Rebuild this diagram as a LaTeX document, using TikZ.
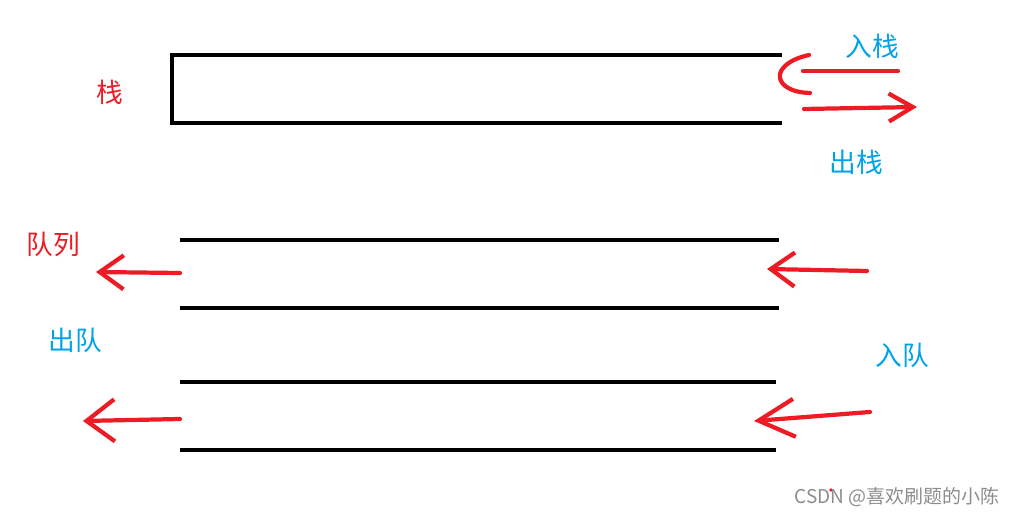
\documentclass[tikz,border=0pt]{standalone}
\usepackage{fontspec}
\newfontfamily\cjk{Noto Sans CJK SC}
\usetikzlibrary{arrows.meta}
\definecolor{mPaintRed}{HTML}{ED1C24}
\definecolor{mPaintBlue}{HTML}{00A2E8}

\begin{document}
\begin{tikzpicture}[x=0.025cm, y=-0.025cm,
    wall/.style={line width=3pt, black},
    redline/.style={line width=3pt, mPaintRed, line cap=round, line join=round},
    redarrow/.style 2 args={redline, -{Straight Barb[length=#1, width=#2]}},
    bluelbl/.style={font=\cjk\fontsize{19}{21}\selectfont, text=mPaintBlue, inner sep=0pt},
    redlbl/.style={font=\cjk\fontsize{19}{21}\selectfont, text=mPaintRed, inner sep=0pt}]
    \useasboundingbox (0,0) rectangle (1018,517);

    % stack
    \draw[wall] (782,55) -- (172,55) -- (172,123) -- (782,123);
    \node[redlbl] (stacklbl) at (110,92) {栈};
    \node[bluelbl] (push) at (872,46) {入栈};
    \node[bluelbl] (pop) at (856,162) {出栈};
    \coordinate (pushs) at (898,71);
    \coordinate (pushe) at (803,71);
    \coordinate (pops) at (804,109);
    \coordinate (pope) at (917,107);
    \draw[redline] (pushs) -- (pushe);
    \draw[redline] (809,55) .. controls (768,64) and (772,92) .. (810,93);
    \draw[redarrow={0.6cm}{0.7cm}] (pops) -- (pope);

    % queues
    \draw[wall] (180,240) -- (779,240);
    \draw[wall] (180,308) -- (779,308);
    \draw[wall] (180,382) -- (776,382);
    \draw[wall] (180,450) -- (776,450);
    \node[redlbl] (queuelbl) at (53,244) {队列};
    \node[bluelbl] (deq) at (75,340) {出队};
    \node[bluelbl] (enq) at (902,355) {入队};

    \coordinate (qaout) at (180,273);
    \coordinate (qaouttip) at (96,272);
    \coordinate (qain) at (867,271);
    \coordinate (qaintip) at (767,269);
    \coordinate (qbout) at (180,419);
    \coordinate (qbouttip) at (83,421);
    \coordinate (qbin) at (870,412);
    \coordinate (qbintip) at (754,421);
    \draw[redarrow={0.6cm}{0.85cm}] (qaout) -- (qaouttip);
    \draw[redarrow={0.6cm}{0.85cm}] (qain) -- (qaintip);
    \draw[redarrow={0.7cm}{1.05cm}] (qbout) -- (qbouttip);
    \draw[redarrow={0.9cm}{0.95cm}] (qbin) -- (qbintip);

    % watermark
    \fill[mPaintRed] (831,490) circle (1.8);
    \node[font=\cjk\fontsize{13.5}{15}\selectfont, text=black!45, inner sep=0pt] (mark) at (897,497) {CSDN @喜欢刷题的小陈};
\end{tikzpicture}
\end{document}
